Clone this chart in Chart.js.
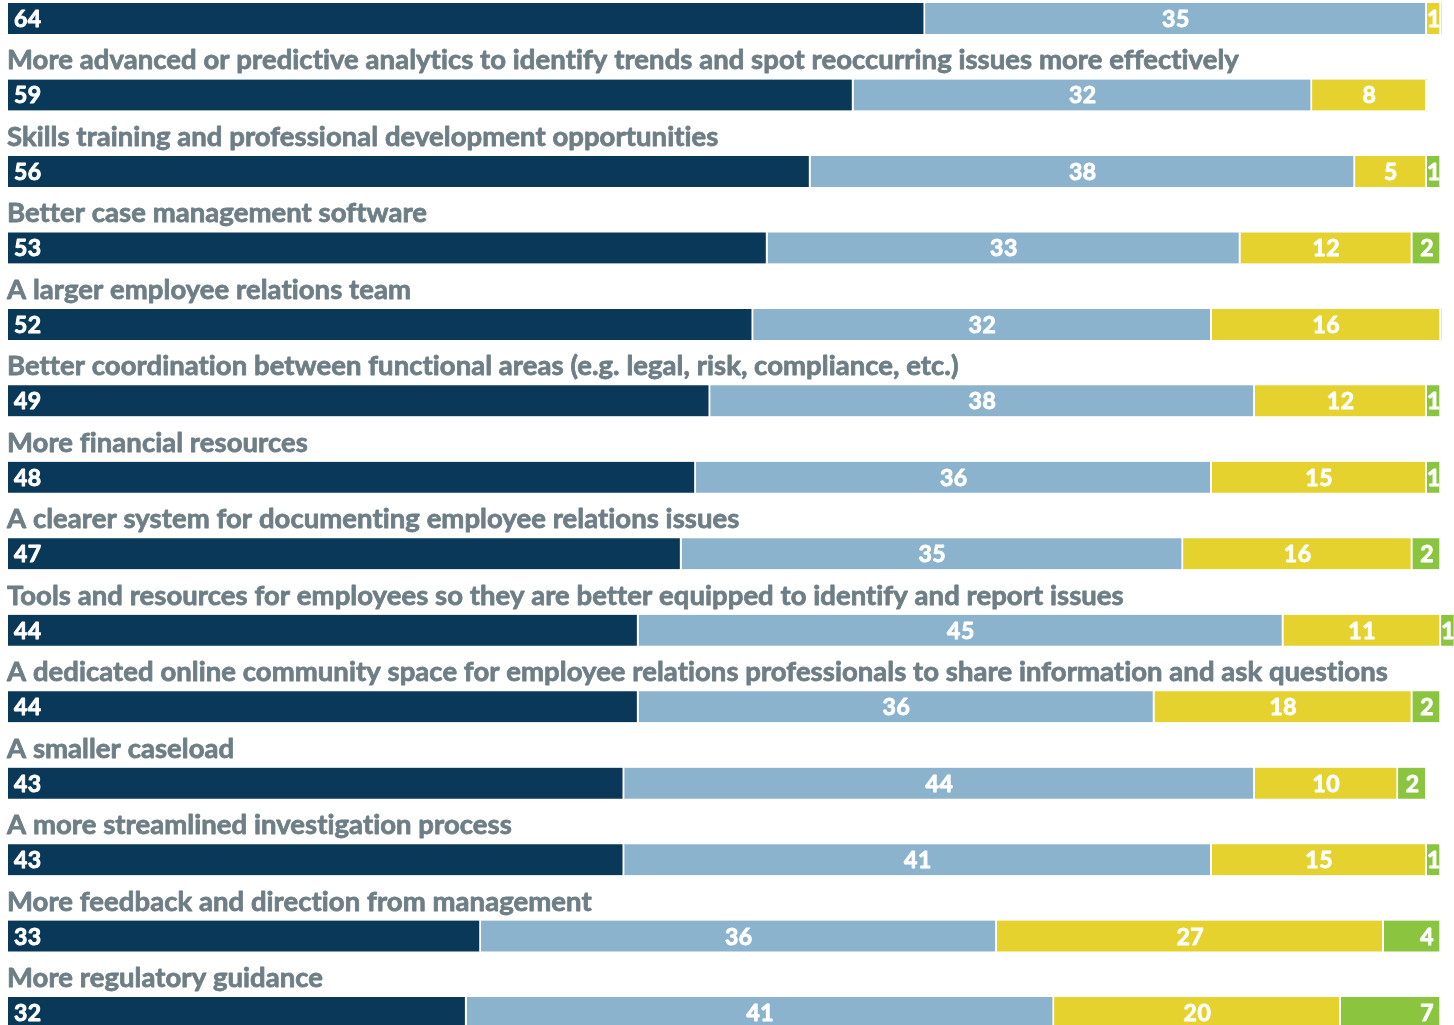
<!DOCTYPE html>
<html>
<head>
<meta charset="utf-8">
<script src="https://cdn.jsdelivr.net/npm/chart.js@4"></script>
<style>
    html, body { margin: 0; padding: 0; background: #fff; overflow: hidden; }
    #wrap { position: absolute; left: 0; top: -40px; width: 1454px; height: 1100px; }
</style>
</head>
<body>
<div id="wrap"><canvas id="chart"></canvas></div>
<script>
const categories = [
    "",
    "More advanced or predictive analytics to identify trends and spot reoccurring issues more effectively",
    "Skills training and professional development opportunities",
    "Better case management software",
    "A larger employee relations team",
    "Better coordination between functional areas (e.g. legal, risk, compliance, etc.)",
    "More financial resources",
    "A clearer system for documenting employee relations issues",
    "Tools and resources for employees so they are better equipped to identify and report issues",
    "A dedicated online community space for employee relations professionals to share information and ask questions",
    "A smaller caseload",
    "A more streamlined investigation process",
    "More feedback and direction from management",
    "More regulatory guidance"
];

const series1 = [64, 59, 56, 53, 52, 49, 48, 47, 44, 44, 43, 43, 33, 32];
const series2 = [35, 32, 38, 33, 32, 38, 36, 35, 45, 36, 44, 41, 36, 41];
const series3 = [1, 8, 5, 12, 16, 12, 15, 16, 11, 18, 10, 15, 27, 20];
const series4 = [0, 0, 1, 2, 0, 1, 1, 2, 1, 2, 2, 1, 4, 7];

const colors = ["#0a3858", "#8cb3ce", "#e5d22e", "#8bc540"];
const BAR = 31;

// text drawn with a thin stroke on top so it reads heavier
function heavyText(ctx, txt, tx, ty, lw) {
    ctx.lineWidth = lw;
    ctx.strokeStyle = ctx.fillStyle;
    ctx.lineJoin = "round";
    ctx.fillText(txt, tx, ty);
    ctx.strokeText(txt, tx, ty);
}

// category text above each bar, value text inside each segment
const rowLabels = {
    id: "rowLabels",
    afterDatasetsDraw(chart) {
        const ctx = chart.ctx;
        const x = chart.scales.x, y = chart.scales.y;
        ctx.save();
        ctx.font = "700 27.5px Lato";
        ctx.letterSpacing = "0.05px";
        ctx.fillStyle = "#6e7e86";
        ctx.textAlign = "left";
        ctx.textBaseline = "alphabetic";
        categories.forEach((c, i) => {
            const top = y.getPixelForValue(i) - BAR / 2;
            heavyText(ctx, c, x.left - 1, top - 10, 0.8);
        });

        ctx.font = "700 23px Lato";
        ctx.letterSpacing = "0.5px";
        ctx.fillStyle = "#fff";
        ctx.textBaseline = "middle";
        chart.data.datasets.forEach((ds, di) => {
            const meta = chart.getDatasetMeta(di);
            meta.data.forEach((bar, i) => {
                const v = ds.data[i];
                if (!v) return;
                const txt = String(v);
                const w = ctx.measureText(txt).width;
                const left = Math.min(bar.x, bar.base);
                const right = Math.max(bar.x, bar.base);
                let tx;
                if (di === 0) {
                    ctx.textAlign = "left";
                    tx = left + 6;
                } else if (di === 3 && right - left > w * 2) {
                    ctx.textAlign = "right";
                    tx = right - 7;
                } else {
                    ctx.textAlign = "center";
                    tx = (left + right) / 2;
                }
                heavyText(ctx, txt, tx, bar.y + 1, 0.9);
            });
        });
        ctx.restore();
    }
};

const datasets = [series1, series2, series3, series4].map((d, i) => ({
    label: "Series " + (i + 1),
    data: d,
    backgroundColor: colors[i],
    borderColor: "#fff",
    borderWidth: { top: 0, right: 2, bottom: 0, left: 0 },
    borderSkipped: "start",
    barThickness: BAR,
    clip: false
}));

new Chart(document.getElementById("chart").getContext("2d"), {
    type: "bar",
    data: { labels: categories, datasets: datasets },
    options: {
        indexAxis: "y",
        responsive: true,
        maintainAspectRatio: false,
        animation: false,
        layout: { padding: { left: 8, right: 13, top: 20.3, bottom: 9.2 } },
        plugins: {
            legend: { display: false },
            tooltip: { enabled: false }
        },
        scales: {
            x: { stacked: true, min: 0, max: 100, display: false },
            y: { stacked: true, display: false }
        }
    },
    plugins: [rowLabels]
});
</script>
</body>
</html>
